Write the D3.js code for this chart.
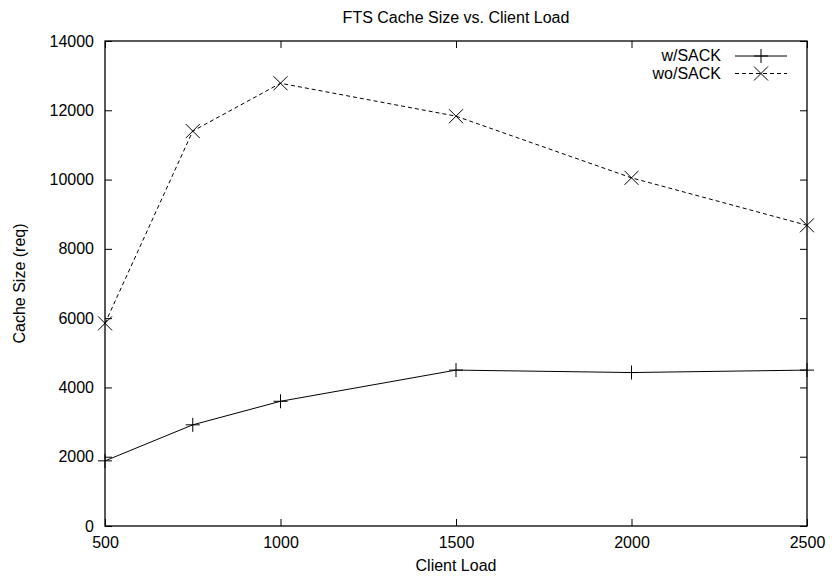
<!DOCTYPE html>
<html><head><meta charset="utf-8">
<script src="https://cdn.jsdelivr.net/npm/d3@7"></script>
<style>body{margin:0;background:#fff}text{font-family:"Liberation Sans",Arial,sans-serif;fill:#000}</style>
</head><body>
<svg id="c" width="832" height="581"></svg>
<script>
const clientLoad = [500, 750, 1000, 1500, 2000, 2500];
const withSack = [1880, 2920, 3600, 4500, 4430, 4500];
const withoutSack = [5850, 11400, 12780, 11830, 10050, 8680];
const xTicks = [500, 1000, 1500, 2000, 2500];
const yTicks = [0, 2000, 4000, 6000, 8000, 10000, 12000, 14000];
const seriesNames = ["w/SACK", "wo/SACK"];

const svg = d3.select("#c");
const L = 105, R = 807, T = 41, B = 526;
const x = d3.scaleLinear().domain([500, 2500]).range([L, R]);
const y = d3.scaleLinear().domain([0, 14000]).range([B, T]);
const fs = 16;

// frame
svg.append("rect").attr("x", L).attr("y", T).attr("width", R - L).attr("height", B - T)
  .attr("fill", "none").attr("stroke", "#000").attr("stroke-width", 1.3);

const tl = 7;
const yAxL = d3.axisLeft(y).tickValues(yTicks).tickSize(-tl).tickPadding(11).tickFormat(d3.format("d"));
const gl = svg.append("g").attr("transform", `translate(${L},0)`).call(yAxL);
const yAxR = d3.axisRight(y).tickValues(yTicks).tickSize(-tl).tickFormat("");
const gr = svg.append("g").attr("transform", `translate(${R},0)`).call(yAxR);
const xAxB = d3.axisBottom(x).tickValues(xTicks).tickSize(-tl).tickPadding(11).tickFormat(d3.format("d"));
const gb = svg.append("g").attr("transform", `translate(0,${B})`).call(xAxB);
const xAxT = d3.axisTop(x).tickValues(xTicks).tickSize(-tl).tickFormat("");
const gt = svg.append("g").attr("transform", `translate(0,${T})`).call(xAxT);
[gl, gr, gb, gt].forEach(g => {
  g.select(".domain").remove();
  g.selectAll("line").attr("stroke", "#000");
  g.selectAll("text").attr("font-size", fs).attr("font-family", '"Liberation Sans",Arial,sans-serif');
});

// title and labels
svg.append("text").attr("x", 456).attr("y", 23).attr("text-anchor", "middle").attr("font-size", fs)
  .text("FTS Cache Size vs. Client Load");
svg.append("text").attr("x", 456).attr("y", 571).attr("text-anchor", "middle").attr("font-size", fs)
  .text("Client Load");
svg.append("text").attr("transform", `translate(25,${(T + B) / 2}) rotate(-90)`).attr("text-anchor", "middle").attr("font-size", fs)
  .text("Cache Size (req)");

const line = d3.line().x(d => x(d[0])).y(d => y(d[1]));
const s1 = clientLoad.map((c, i) => [c, withSack[i]]);
const s2 = clientLoad.map((c, i) => [c, withoutSack[i]]);
const m = 7;
function plus(g, px, py) {
  g.append("path").attr("d", `M${px - m},${py}H${px + m}M${px},${py - m}V${py + m}`).attr("stroke", "#000").attr("stroke-width", 1);
}
function cross(g, px, py) {
  g.append("path").attr("d", `M${px - m},${py - m}L${px + m},${py + m}M${px - m},${py + m}L${px + m},${py - m}`).attr("stroke", "#000").attr("stroke-width", 1);
}
svg.append("path").attr("d", line(s1)).attr("fill", "none").attr("stroke", "#000").attr("stroke-width", 1);
svg.append("path").attr("d", line(s2)).attr("fill", "none").attr("stroke", "#000").attr("stroke-width", 1).attr("stroke-dasharray", "4,3");
const gm = svg.append("g");
s1.forEach(d => plus(gm, x(d[0]), y(d[1])));
s2.forEach(d => cross(gm, x(d[0]), y(d[1])));

// legend
const lx1 = 735, lx2 = 787, ly = [56, 73.5];
seriesNames.forEach((n, i) => {
  svg.append("text").attr("x", 721).attr("y", ly[i] + 5).attr("text-anchor", "end").attr("font-size", fs).text(n);
  const p = svg.append("path").attr("d", `M${lx1},${ly[i]}H${lx2}`).attr("stroke", "#000").attr("stroke-width", 1);
  if (i === 1) p.attr("stroke-dasharray", "4,3");
  if (i === 0) plus(svg, (lx1 + lx2) / 2, ly[i]); else cross(svg, (lx1 + lx2) / 2, ly[i]);
});
</script>
</body></html>
